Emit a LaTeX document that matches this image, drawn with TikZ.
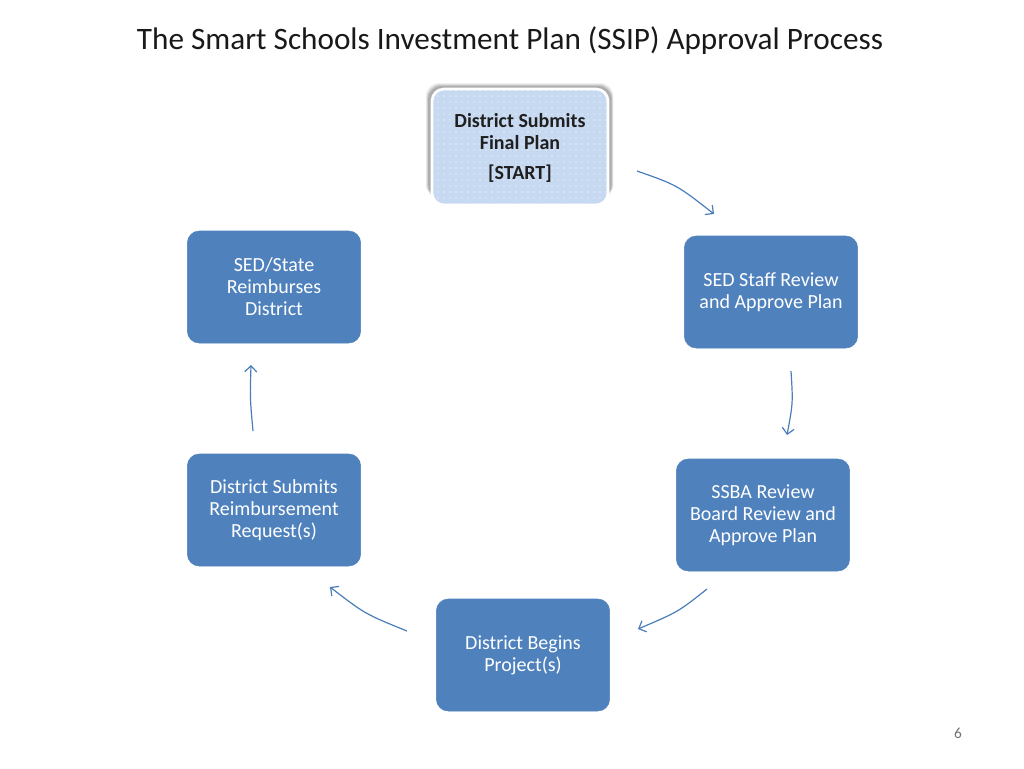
\documentclass[tikz,border=0pt]{standalone}
\usepackage{fontspec}
\setmainfont{Carlito}
\usetikzlibrary{arrows.meta,patterns.meta}
\definecolor{boxblue}{HTML}{4F81BD}
\definecolor{startblue}{HTML}{C6D9F1}
\definecolor{arrowblue}{HTML}{4A7EBB}
\begin{document}
\begin{tikzpicture}[x=0.75pt,y=-0.75pt,
  stepbox/.style={draw=boxblue, fill=boxblue, rounded corners=9pt, minimum width=130pt, minimum height=84pt,
    text=white, align=center, font=\fontsize{15}{16.5}\selectfont, inner sep=2pt},
  startbox/.style={draw=white, line width=2pt, fill=startblue, rounded corners=9pt, minimum width=132pt, minimum height=87pt,
    text=black!88, align=center, font=\bfseries\fontsize{15}{16.5}\selectfont, inner sep=2pt},
  flow/.style={draw=arrowblue, line width=0.9pt, -{Straight Barb[length=4.5pt,width=9pt]}}
]
\useasboundingbox (0,0) rectangle (1024,768);
\fill[white] (0,0) rectangle (1024,768);

\node[font=\fontsize{23.4}{28}\selectfont, text=black!90] (title) at (510,41) {The Smart Schools Investment Plan (SSIP) Approval Process};

% soft shadow of the start box (upwards and to the left)
\foreach \k/\op in {4/0.06,3/0.08,2/0.10,1/0.12}{
  \fill[black, opacity=\op, rounded corners=10pt]
    (429-\k*0.8,87-\k) rectangle (611+\k*0.6,198);
}
\node[startbox] (start) at (520,147) {};
\fill[pattern={Dots[radius=0.45pt,distance=4.5pt]}, pattern color=white, rounded corners=8pt]
  ([xshift=1.5pt,yshift=-1.5pt]start.north west) rectangle ([xshift=-1.5pt,yshift=1.5pt]start.south east);
\node[startbox, fill=none, draw=none] (starttext) at (520,148)
  {District Submits\\Final Plan\\[6pt][START]};

\node[stepbox] (review) at (771,292) {SED Staff Review\\and Approve Plan};
\node[stepbox] (ssba) at (763,515) {SSBA Review\\Board Review and\\Approve Plan};
\node[stepbox] (begins) at (523,655) {District Begins\\Project(s)};
\node[stepbox] (request) at (274,510) {District Submits\\Reimbursement\\Request(s)};
\node[stepbox] (reimb) at (274,287) {SED/State\\Reimburses\\District};

\coordinate (a1s) at (637,171); \coordinate (a1e) at (714,214);
\coordinate (a2s) at (791,371); \coordinate (a2e) at (787,435);
\coordinate (a3s) at (707,589); \coordinate (a3e) at (638,629);
\coordinate (a4s) at (407,631); \coordinate (a4e) at (330,587);
\coordinate (a5s) at (253,431); \coordinate (a5e) at (251,365);

\draw[flow] (a1s) .. controls (677,185) .. (a1e);
\draw[flow] (a2s) .. controls (793,403) .. (a2e);
\draw[flow] (a3s) .. controls (678,612) .. (a3e);
\draw[flow] (a4s) .. controls (365,614) .. (a4e);
\draw[flow] (a5s) .. controls (250,398) .. (a5e);

\node[font=\fontsize{11.5}{13}\selectfont, text=black!55] (page) at (958,733) {6};
\end{tikzpicture}
\end{document}
